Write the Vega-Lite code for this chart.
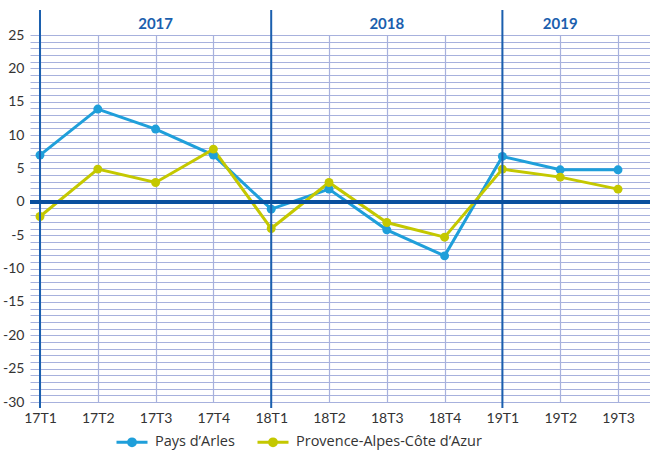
{
  "$schema": "https://vega.github.io/schema/vega-lite/v6.json",
  "width": 620,
  "height": 367,
  "autosize": "none",
  "padding": {"left": 30, "top": 35, "right": 0, "bottom": 48},
  "config": {
    "view": {"stroke": null},
    "font": "Lato",
    "axis": {"labelFont": "Lato", "labelColor": "#333333", "labelFontSize": 14, "domain": false, "ticks": false, "title": null, "gridColor": "#a7b1dd", "gridWidth": 1.2, "gridOpacity": 1}
  },
  "data": {
    "values": [
      {"t": "17T1", "s": "Pays d’Arles", "v": 7.0},
      {"t": "17T2", "s": "Pays d’Arles", "v": 13.9},
      {"t": "17T3", "s": "Pays d’Arles", "v": 10.9},
      {"t": "17T4", "s": "Pays d’Arles", "v": 7.0},
      {"t": "18T1", "s": "Pays d’Arles", "v": -1.1},
      {"t": "18T2", "s": "Pays d’Arles", "v": 1.9},
      {"t": "18T3", "s": "Pays d’Arles", "v": -4.2},
      {"t": "18T4", "s": "Pays d’Arles", "v": -8.1},
      {"t": "19T1", "s": "Pays d’Arles", "v": 6.8},
      {"t": "19T2", "s": "Pays d’Arles", "v": 4.8},
      {"t": "19T3", "s": "Pays d’Arles", "v": 4.8},
      {"t": "17T1", "s": "Provence-Alpes-Côte d’Azur", "v": -2.2},
      {"t": "17T2", "s": "Provence-Alpes-Côte d’Azur", "v": 4.9},
      {"t": "17T3", "s": "Provence-Alpes-Côte d’Azur", "v": 2.9},
      {"t": "17T4", "s": "Provence-Alpes-Côte d’Azur", "v": 7.9},
      {"t": "18T1", "s": "Provence-Alpes-Côte d’Azur", "v": -4.0},
      {"t": "18T2", "s": "Provence-Alpes-Côte d’Azur", "v": 2.9},
      {"t": "18T3", "s": "Provence-Alpes-Côte d’Azur", "v": -3.1},
      {"t": "18T4", "s": "Provence-Alpes-Côte d’Azur", "v": -5.3},
      {"t": "19T1", "s": "Provence-Alpes-Côte d’Azur", "v": 4.9},
      {"t": "19T2", "s": "Provence-Alpes-Côte d’Azur", "v": 3.7},
      {"t": "19T3", "s": "Provence-Alpes-Côte d’Azur", "v": 1.9}
    ]
  },
  "layer": [
    {
      "mark": {"type": "line", "strokeWidth": 3},
      "encoding": {
        "x": {"field": "t", "type": "ordinal", "scale": {"type": "point", "range": [0, 620], "padding": 0.3633, "align": 0.238},
              "axis": {"grid": true, "labelPadding": 9, "labelAngle": 0}},
        "y": {"field": "v", "type": "quantitative", "scale": {"domain": [-30, 25], "nice": false, "zero": false},
              "axis": {"values": [-30,-29,-28,-27,-26,-25,-24,-23,-22,-21,-20,-19,-18,-17,-16,-15,-14,-13,-12,-11,-10,-9,-8,-7,-6,-5,-4,-3,-2,-1,0,1,2,3,4,5,6,7,8,9,10,11,12,13,14,15,16,17,18,19,20,21,22,23,24,25],
                       "tickCount": 60, "labelOverlap": false,
                       "labelExpr": "datum.value % 5 === 0 ? '' + datum.value : ''", "labelPadding": 6, "grid": true}},
        "color": {"field": "s", "type": "nominal",
                  "scale": {"domain": ["Pays d’Arles", "Provence-Alpes-Côte d’Azur"], "range": ["#1f9fda", "#c4c800"]},
                  "legend": {"title": null, "orient": "none", "direction": "horizontal", "legendX": 85, "legendY": 390,
                             "padding": 0, "columnPadding": 16, "labelFont": "Open Sans", "labelFontSize": 14.5, "labelColor": "#333333", "labelOffset": 6,
                             "labelLimit": 400,
                             "symbolType": "M-1,0L1,0M-0.22,0A0.22,0.22,0,1,1,0.22,0A0.22,0.22,0,1,1,-0.22,0Z",
                             "symbolSize": 961, "symbolStrokeWidth": 3}}
      }
    },
    {
      "mark": {"type": "point", "filled": true, "size": 80, "opacity": 1},
      "encoding": {
        "x": {"field": "t", "type": "ordinal"},
        "y": {"field": "v", "type": "quantitative"},
        "color": {"field": "s", "type": "nominal"}
      }
    },
    {
      "data": {"values": [{"q": "17T1"}, {"q": "18T1"}, {"q": "19T1"}]},
      "mark": {"type": "rule", "color": "#1b5fae", "strokeWidth": 2},
      "encoding": {
        "x": {"field": "q", "type": "ordinal"},
        "y": {"datum": 28.75},
        "y2": {"datum": -30.9}
      }
    },
    {
      "mark": {"type": "rule", "color": "#0a4f9e", "strokeWidth": 3},
      "encoding": {"y": {"datum": 0}}
    },
    {
      "data": {"values": [{"yr": "2017", "q": "17T3"}, {"yr": "2018", "q": "18T3"}, {"yr": "2019", "q": "19T2"}]},
      "mark": {"type": "text", "fontWeight": "bold", "fontSize": 15, "color": "#1b5fae", "baseline": "middle"},
      "encoding": {"x": {"field": "q", "type": "ordinal"}, "y": {"datum": 26.6}, "text": {"field": "yr"}}
    }
  ]
}
